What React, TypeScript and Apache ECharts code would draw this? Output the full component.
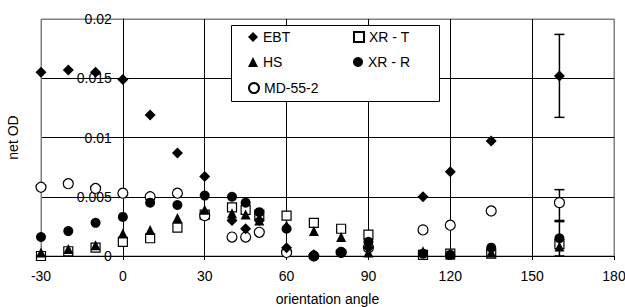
import React, { useEffect, useRef } from "react";
import * as echarts from "echarts";

const angles = [-30, -20, -10, 0, 10, 20, 30, 40, 45, 50, 60, 70, 80, 90, 110, 120, 135, 160];
const ebt = [0.0155, 0.0157, 0.0155, 0.0149, 0.0119, 0.0087, 0.0067, 0.003, 0.0023, 0.003, 0.0007, 0.0001, 0.0003, 0.0007, 0.005, 0.0071, 0.0097, 0.0152];
const xrT = [0.0, 0.0004, 0.0007, 0.0012, 0.0015, 0.0024, 0.0035, 0.0041, 0.0039, 0.0035, 0.0034, 0.0028, 0.0023, 0.0018, 0.0001, 0.0002, 0.0002, 0.001];
const hs = [0.0003, 0.0006, 0.0009, 0.0019, 0.0022, 0.0032, 0.0039, 0.0036, 0.0035, 0.003, 0.0026, 0.0021, 0.0016, 0.0003, 0.0004, 0.0001, 0.0003, 0.0008];
const xrR = [0.0016, 0.0021, 0.0028, 0.0033, 0.0045, 0.0043, 0.0051, 0.005, 0.0045, 0.0037, 0.0023, 0.0, 0.0003, 0.0012, 0.0002, 0.0001, 0.0007, 0.0015];
const md = [0.0058, 0.0061, 0.0057, 0.0053, 0.005, 0.0053, 0.0034, 0.0016, 0.0016, 0.002, 0.0003, 0.0, 0.0003, 0.0007, 0.0022, 0.0026, 0.0038, 0.0045];

const errX = [160, 160, 160];
const errLow = [0.0117, 0.003, 0.0];
const errHigh = [0.0187, 0.0056, 0.0029];

const xTicks = [-30, 0, 30, 60, 90, 120, 150, 180];
const yTickLabels = ["0", "0.005", "0.01", "0.015", "0.02"];

const FONT = "Liberation Sans, Arial, sans-serif";

const GRID_LEFT = 41;
const GRID_RIGHT = 11;
const X_MIN = -30;
const X_MAX = 180;
// pixel offset that moves the y axis from the grid's left edge to x = 0
const Y_AXIS_SHIFT = ((0 - X_MIN) / (X_MAX - X_MIN)) * (625 - GRID_LEFT - GRID_RIGHT);

function pairs(vals: number[]) {
  return angles.map((a, i) => [a, vals[i]]);
}

export default function App() {
  const ref = useRef<HTMLDivElement>(null);
  useEffect(() => {
    if (!ref.current) return;
    const chart = echarts.init(ref.current, null, { renderer: "svg" });
    const legendBase = {
      orient: "horizontal",
      padding: 0,
      itemWidth: 10,
      itemHeight: 10,
      selectedMode: false,
      textStyle: { fontFamily: FONT, fontSize: 14, color: "#000" },
    };
    const option: any = {
      animation: false,
      backgroundColor: "#fff",
      grid: {
        left: GRID_LEFT,
        right: GRID_RIGHT,
        top: 19,
        bottom: 51,
        show: true,
        borderColor: "#808080",
        borderWidth: 1,
        containLabel: false,
        outerBoundsMode: "none",
      },
      xAxis: {
        type: "value",
        min: X_MIN,
        max: X_MAX,
        interval: 30,
        name: "orientation angle",
        nameLocation: "middle",
        nameGap: 36,
        nameTextStyle: { fontFamily: FONT, fontSize: 14, color: "#000" },
        axisLine: { show: true, onZero: false, lineStyle: { color: "#000", width: 1 } },
        axisTick: { show: true, inside: false, length: 4, lineStyle: { color: "#000" } },
        axisLabel: { fontFamily: FONT, fontSize: 14, color: "#000", margin: 13, showMinLabel: true, showMaxLabel: true, hideOverlap: false, formatter: (v: number) => String(xTicks.find((t) => t === Math.round(v)) ?? v) },
        splitLine: {
          show: true,
          lineStyle: { color: ["#808080", "#000", "#000", "#000", "#000", "#000", "#000", "#808080"], width: 1 },
        },
      },
      yAxis: {
        type: "value",
        min: 0,
        max: 0.02,
        interval: 0.005,
        position: "left",
        offset: -Y_AXIS_SHIFT,
        name: "net OD",
        nameLocation: "middle",
        nameGap: 103,
        nameRotate: 90,
        nameTextStyle: { fontFamily: FONT, fontSize: 14, color: "#000" },
        axisLine: { show: true, onZero: false, lineStyle: { color: "#000", width: 1 } },
        axisTick: { show: false },
        axisLabel: {
          fontFamily: FONT,
          fontSize: 14,
          color: "#000",
          margin: 11,
          showMinLabel: true,
          showMaxLabel: true,
          hideOverlap: false,
          formatter: (v: number) => yTickLabels[Math.round(v / 0.005)] ?? String(v),
        },
        splitLine: { show: true, lineStyle: { color: ["#000", "#000", "#000", "#000", "#808080"], width: 1 } },
      },
      legend: [
        { ...legendBase, data: ["EBT"], left: 248, top: 30 },
        { ...legendBase, data: ["HS"], left: 248, top: 55 },
        { ...legendBase, data: ["MD-55-2"], left: 248, top: 81 },
        { ...legendBase, data: ["XR - T"], left: 353, top: 30 },
        { ...legendBase, data: ["XR - R"], left: 353, top: 55 },
      ],
      graphic: [
        {
          type: "rect",
          z: 3,
          shape: { x: 231.5, y: 25.5, width: 208, height: 76 },
          style: { fill: "#fff", stroke: "#000", lineWidth: 1 },
        },
      ],
      series: [
        {
          type: "custom",
          name: "err",
          z: 1,
          data: errX.map((x, i) => [x, errLow[i], errHigh[i]]),
          encode: { x: 0, y: [1, 2] },
          renderItem: (params: any, api: any) => {
            const x = api.value(0);
            const lo = api.coord([x, api.value(1)]);
            const hi = api.coord([x, api.value(2)]);
            const w = 5;
            const st = { stroke: "#000", lineWidth: 1.5 };
            return {
              type: "group",
              children: [
                { type: "line", shape: { x1: lo[0], y1: lo[1], x2: hi[0], y2: hi[1] }, style: st },
                { type: "line", shape: { x1: lo[0] - w, y1: lo[1], x2: lo[0] + w, y2: lo[1] }, style: st },
                { type: "line", shape: { x1: hi[0] - w, y1: hi[1], x2: hi[0] + w, y2: hi[1] }, style: st },
              ],
            };
          },
        },
        {
          type: "scatter",
          name: "XR - T",
          symbol: "rect",
          symbolSize: 9,
          itemStyle: { color: "#fff", borderColor: "#000", borderWidth: 1.2, opacity: 1 },
          data: pairs(xrT),
          z: 2,
        },
        {
          type: "scatter",
          name: "MD-55-2",
          symbol: "circle",
          symbolSize: 10,
          itemStyle: { color: "#fff", borderColor: "#000", borderWidth: 1.2, opacity: 1 },
          data: pairs(md),
          z: 2,
        },
        {
          type: "scatter",
          name: "HS",
          symbol: "triangle",
          symbolSize: 10,
          itemStyle: { color: "#000", opacity: 1 },
          data: pairs(hs),
          z: 2,
        },
        {
          type: "scatter",
          name: "XR - R",
          symbol: "circle",
          symbolSize: 10,
          itemStyle: { color: "#000", opacity: 1 },
          data: pairs(xrR),
          z: 2,
        },
        {
          type: "scatter",
          name: "EBT",
          symbol: "diamond",
          symbolSize: 11,
          itemStyle: { color: "#000", opacity: 1 },
          data: pairs(ebt),
          z: 2,
        },
      ],
    };
    chart.setOption(option);
    return () => chart.dispose();
  }, []);
  return <div ref={ref} style={{ width: 625, height: 307, position: "absolute", left: 0, top: 0 }} />;
}
